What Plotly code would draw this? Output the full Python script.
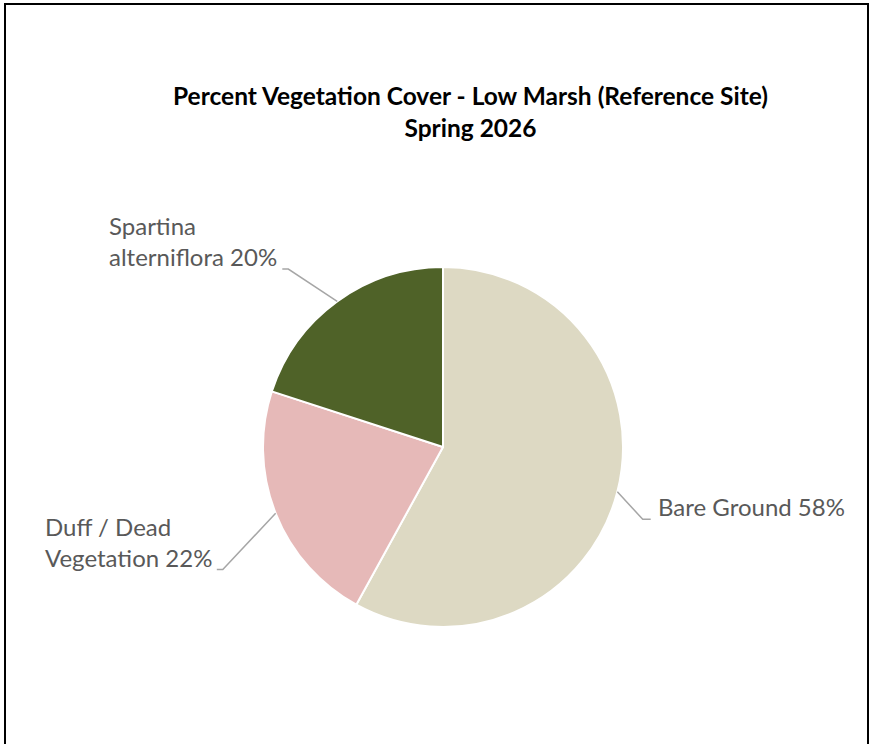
import math
import plotly.graph_objects as go

# Vegetation cover data (percent)
categories = ['Bare Ground', 'Duff / Dead<br>Vegetation', 'Spartina<br>alterniflora']
cover_pct = [58, 22, 20]
slice_colors = ['#DDD9C3', '#E6B9B8', '#4F6228']

W, H = 872, 744
CX, CY, R = 443, 447, 180  # pie centre and radius in px

# label placement: elbow radius factor, angle tweak (deg), side
label_layout = [
    (1.18, 5.5, 'right'),
    (1.40, -7.5, 'left'),
    (1.31, -5.0, 'left'),
]


def px(x):
    return x / W


def py(y):
    return 1 - y / H


fig = go.Figure(go.Pie(
    labels=categories,
    values=cover_pct,
    sort=False,
    direction='clockwise',
    rotation=0,
    textinfo='none',
    hoverinfo='label+percent',
    marker=dict(colors=slice_colors, line=dict(color='white', width=2)),
    domain=dict(x=[px(CX - R), px(CX + R)], y=[py(CY + R), py(CY - R)]),
    showlegend=False,
))

shapes = []
annotations = []
total = sum(cover_pct)
cum = 0
for name, val, (rf, tweak, side) in zip(categories, cover_pct, label_layout):
    mid = (cum + val / 2) / total * 360
    cum += val
    a = math.radians(mid)
    x0, y0 = CX + R * math.sin(a), CY - R * math.cos(a)
    b = math.radians(mid + tweak)
    x1, y1 = CX + R * rf * math.sin(b), CY - R * rf * math.cos(b)
    dx = 8 if side == 'right' else -6
    x2 = x1 + dx
    shapes.append(dict(type='path', xref='paper', yref='paper',
                       path=f'M {px(x0)},{py(y0)} L {px(x1)},{py(y1)} L {px(x2)},{py(y1)}',
                       line=dict(color='#A6A6A6', width=1.5)))
    annotations.append(dict(
        x=px(x2 + (5 if side == 'right' else -3)), y=py(y1 + 4),
        xref='paper', yref='paper',
        xanchor='left' if side == 'right' else 'right', yanchor='bottom',
        align='left', showarrow=False,
        text=f'{name} {val}%',
        font=dict(family='Lato', size=24, color='#595959'),
    ))

annotations.append(dict(
    x=px(470), y=py(112), xref='paper', yref='paper',
    xanchor='center', yanchor='middle', showarrow=False,
    text='<b>Percent Vegetation Cover - Low Marsh (Reference Site)</b><br><b>Spring 2026</b>',
    font=dict(family='Lato', size=24.5, color='#000000'),
))

# chart frame
shapes.append(dict(type='rect', xref='paper', yref='paper',
                   x0=px(5), x1=px(868), y0=-0.05, y1=py(4),
                   line=dict(color='#000000', width=2)))

fig.update_layout(
    width=W, height=H,
    margin=dict(l=0, r=0, t=0, b=0),
    paper_bgcolor='white',
    plot_bgcolor='white',
    shapes=shapes,
    annotations=annotations,
)

fig.write_html('out.html', config={'displayModeBar': False},
               post_script="document.body.style.margin='0';")
